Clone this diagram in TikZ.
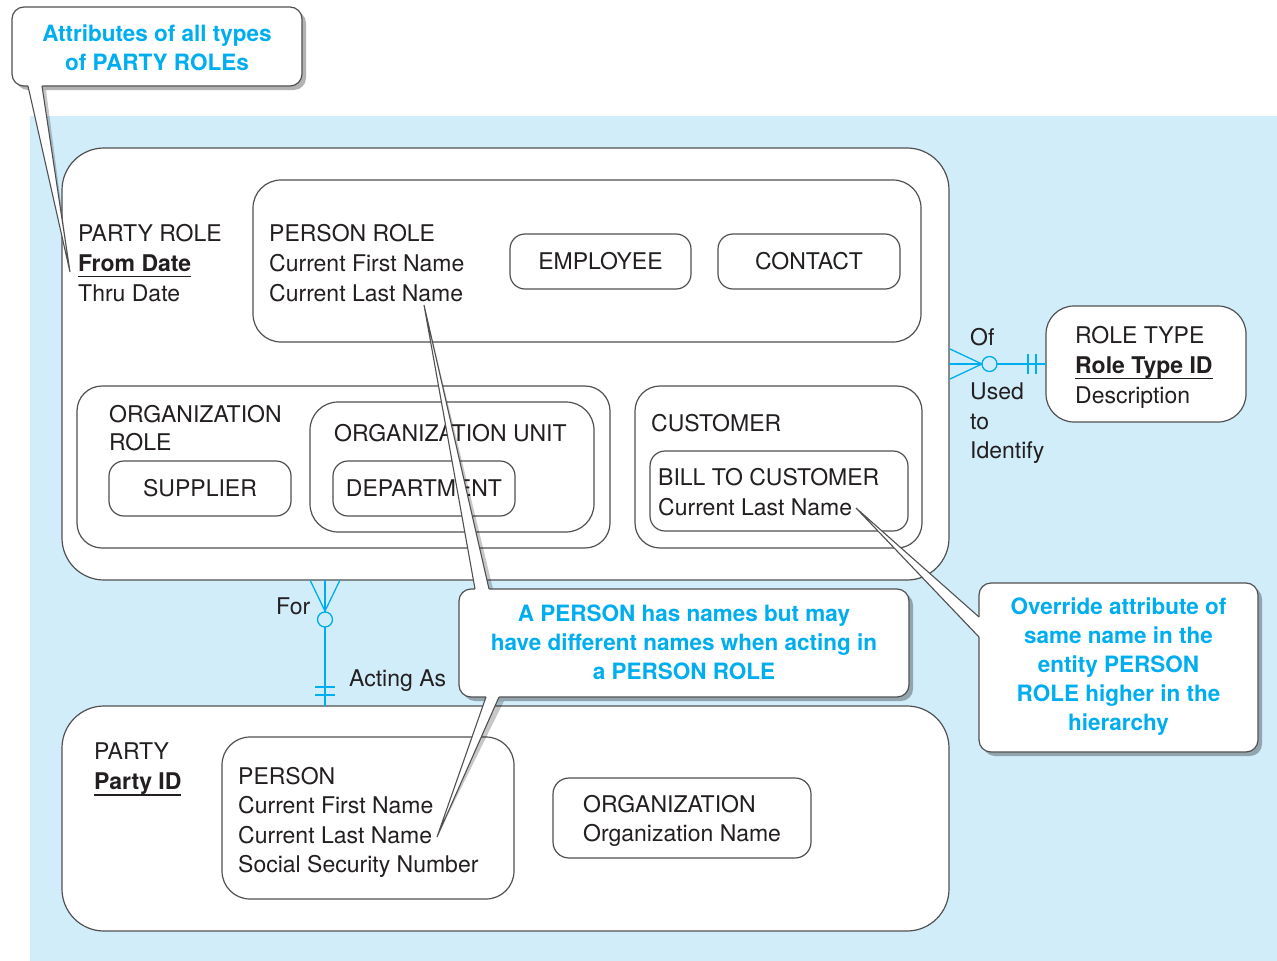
\documentclass[tikz,border=0pt]{standalone}
\usepackage{fontspec}
\setmainfont{TeX Gyre Heros}
\usetikzlibrary{shadows,calc}
\definecolor{bgblue}{HTML}{D2EDFA}
\definecolor{cy}{HTML}{00AEEF}
\definecolor{ln}{HTML}{505052}
\definecolor{tx}{HTML}{231F20}
\newsavebox\myulbox
\newcommand\myul[1]{\sbox\myulbox{#1}\rlap{\rule[-5.6pt]{\wd\myulbox}{1.3pt}}\usebox\myulbox}
\begin{document}
\begin{tikzpicture}[x=1pt,y=-1pt,
 box/.style={draw=ln, line width=1.2pt, fill=white, inner sep=0, outer sep=0, anchor=north west,
   text=tx, font=\fontsize{23}{30}\selectfont},
 ent/.style={inner sep=0, anchor=north west, align=left, text=tx, font=\fontsize{23}{30}\selectfont},
 note/.style={inner sep=0, anchor=north, align=center, text=cy, font=\bfseries\fontsize{22.5}{29}\selectfont},
 callout/.style={draw=ln, line width=1.2pt, fill=white, rounded corners=12, inner sep=0, outer sep=0,
   anchor=north west, drop shadow={shadow xshift=4pt, shadow yshift=-4pt, opacity=.3, fill=black}},
 tailshadow/.style={fill=black, opacity=.22},
 tailfill/.style={fill=white},
 tailline/.style={draw=ln, line width=1.1pt, line join=miter},
 conn/.style={draw=cy, line width=1.3pt},
]
\useasboundingbox (0,0) rectangle (1277,961);
\fill[white] (0,0) rectangle (1277,961);
\fill[bgblue] (30,116) rectangle (1277,961);

% ---------- PARTY ROLE hierarchy ----------
\node[box, rounded corners=42, minimum width=887, minimum height=432] (partyrole) at (62,148) {};
\node[ent] (partyroleT) at (78,224) {PARTY ROLE\\\myul{\textbf{From Date}}\\Thru Date};

\node[box, rounded corners=28, minimum width=668, minimum height=162] (personrole) at (253,180) {};
\node[ent] (personroleT) at (269,224) {PERSON ROLE\\Current First Name\\Current Last Name};
\node[box, rounded corners=15, minimum width=181, minimum height=55] (employee) at (510,234) {EMPLOYEE};
\node[box, rounded corners=15, minimum width=182, minimum height=55] (contact) at (718,234) {CONTACT};

\node[box, rounded corners=25, minimum width=533, minimum height=162] (orgrole) at (77,386) {};
\node[ent, font=\fontsize{23}{28}\selectfont] (orgroleT) at (109,405) {ORGANIZATION\\ROLE};
\node[box, rounded corners=15, minimum width=182, minimum height=55] (supplier) at (109,461) {SUPPLIER};
\node[box, rounded corners=28, minimum width=284, minimum height=130] (orgunit) at (310,402) {};
\node[ent] (orgunitT) at (334,424) {ORGANIZATION UNIT};
\node[box, rounded corners=15, minimum width=182, minimum height=55] (department) at (333,461) {DEPARTMENT};

\node[box, rounded corners=25, minimum width=287, minimum height=162] (customer) at (635,386) {};
\node[ent] (customerT) at (651,414) {CUSTOMER};
\node[box, rounded corners=15, minimum width=258, minimum height=80] (billto) at (650,451) {};
\node[ent] (billtoT) at (658,468) {BILL TO CUSTOMER\\Current Last Name};

% ---------- ROLE TYPE ----------
\node[box, rounded corners=28, minimum width=200, minimum height=116] (roletype) at (1046,306) {};
\node[ent] (roletypeT) at (1075,326) {ROLE TYPE\\\myul{\textbf{Role Type ID}}\\Description};

% ---------- PARTY ----------
\node[box, rounded corners=42, minimum width=887, minimum height=225] (party) at (62,706) {};
\node[ent] (partyT) at (94,743) {PARTY\\\myul{\textbf{Party ID}}};
\node[box, rounded corners=28, minimum width=292, minimum height=162] (person) at (222,737) {};
\node[ent, font=\fontsize{23}{29.5}\selectfont] (personT) at (238,767)
  {PERSON\\Current First Name\\Current Last Name\\Social Security Number};
\node[box, rounded corners=16, minimum width=258, minimum height=80] (organization) at (553,778) {};
\node[ent, font=\fontsize{23}{29}\selectfont] (organizationT) at (583,795) {ORGANIZATION\\Organization Name};

% ---------- relationship PARTY ROLE -- ROLE TYPE ----------
\coordinate (hA) at (partyrole.east |- roletype.west);
\draw[conn] (hA) -- (roletype.west);
\draw[conn] ($(hA)+(1,-15)$) -- ($(hA)+(33,0)$) -- ($(hA)+(1,15)$);
\draw[conn, fill=bgblue] ($(hA)+(40.5,0)$) circle (7.5);
\draw[conn] ($(roletype.west)+(-18,-10)$) -- ($(roletype.west)+(-18,10)$);
\draw[conn] ($(roletype.west)+(-10,-10)$) -- ($(roletype.west)+(-10,10)$);
\node[ent, font=\fontsize{23}{29.5}\selectfont] (ofL) at (970,328) {Of};
\node[ent, font=\fontsize{23}{29.5}\selectfont] (usedL) at (970,383) {Used\\to\\Identify};

% ---------- relationship PARTY ROLE -- PARTY ----------
\coordinate (forX) at (325,0);
\coordinate (vA) at (partyrole.south -| forX);
\coordinate (vB) at (party.north -| forX);
\draw[conn] (vA) -- (vB);
\draw[conn] ($(vA)+(-15,0)$) -- ($(vA)+(0,31)$) -- ($(vA)+(15,0)$);
\draw[conn, fill=bgblue] ($(vA)+(0,39.5)$) circle (7.5);
\draw[conn] ($(vB)+(-10,-19)$) -- ($(vB)+(10,-19)$);
\draw[conn] ($(vB)+(-10,-11)$) -- ($(vB)+(10,-11)$);
\node[ent] (forL) at (276,598) {For};
\node[ent] (actL) at (349,670) {Acting As};

% ---------- callout 1 ----------
\coordinate (t1) at (70,272);
\begin{scope}[shift={(4,4)}]
\fill[tailshadow] (28,86) -- (t1) -- (42,86) -- cycle;
\end{scope}
\node[callout, minimum width=290, minimum height=79] (c1) at (12,7) {};
\fill[tailfill] (28,80) -- (28,86) -- (t1) -- (42,86) -- (42,80) -- cycle;
\draw[tailline] (28,86) -- (t1) -- (42,86);
\node[note] (c1T) at (c1.north |- 0,25) {Attributes of all types\\of PARTY ROLEs};

% ---------- callout 2 ----------
\coordinate (t2a) at (424,305);
\coordinate (t2b) at (437,837);
\begin{scope}[shift={(5,4)}]
\fill[tailshadow] (475,589) -- (t2a) -- (489,589) -- cycle;
\fill[tailshadow] (486,697) -- (t2b) -- (499,697) -- cycle;
\end{scope}
\node[callout, minimum width=450, minimum height=108] (c2) at (459,589) {};
\fill[tailfill] (475,595) -- (475,589) -- (t2a) -- (489,589) -- (489,595) -- cycle;
\draw[tailline] (475,589) -- (t2a) -- (489,589);
\fill[tailfill] (486,691) -- (486,697) -- (t2b) -- (499,697) -- (499,691) -- cycle;
\draw[tailline] (486,697) -- (t2b) -- (499,697);
\node[note] (c2T) at (c2.north |- 0,605) {A PERSON has names but may\\have different names when acting in\\a PERSON ROLE};

% ---------- callout 3 ----------
\coordinate (t3) at (856,508);
\begin{scope}[shift={(4,5)}]
\fill[tailshadow] (979,617) -- (t3) -- (979,637) -- cycle;
\end{scope}
\node[callout, minimum width=279, minimum height=169] (c3) at (979,583) {};
\fill[tailfill] (985,617) -- (979,617) -- (t3) -- (979,637) -- (985,637) -- cycle;
\draw[tailline] (979,617) -- (t3) -- (979,637);
\node[note] (c3T) at (c3.north |- 0,598) {Override attribute of\\same name in the\\entity PERSON\\ROLE higher in the\\hierarchy};
\end{tikzpicture}
\end{document}
